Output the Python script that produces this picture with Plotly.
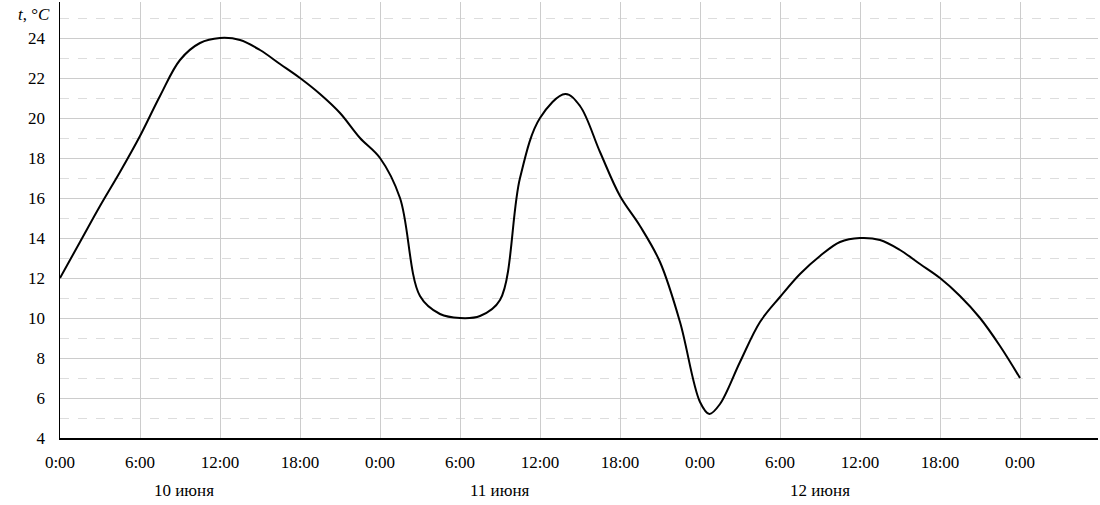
import plotly.graph_objects as go

# Hours since 0:00 on 10 June, temperature in °C
hours = [0, 1.5, 3, 4.5, 6, 7.5, 9, 10.5, 12, 13.5, 15, 16.5, 18, 19.5, 21, 22.5,
         24, 25.5, 27, 28.5, 30, 31.5, 33, 34.5, 36, 37.9, 39, 40.5, 42, 43.5, 45, 46.5,
         48, 48.7, 49.5, 51, 52.5, 54, 55.5, 57, 58.5, 60, 61.5, 63, 64.5, 66, 67.5, 69, 70.5, 72]
temps = [12.0, 13.8, 15.6, 17.3, 19.1, 21.1, 22.9, 23.75, 24.0, 23.9, 23.4, 22.7, 22.0, 21.2, 20.25, 19.0,
         18.0, 16.0, 11.1, 10.2, 10.0, 10.1, 10.9, 17.0, 20.0, 21.2, 20.6, 18.3, 16.1, 14.6, 12.8, 9.8,
         5.8, 5.2, 5.7, 7.8, 9.8, 11.05, 12.2, 13.1, 13.8, 14.0, 13.9, 13.4, 12.7, 12.0, 11.1, 10.0, 8.6, 7.0]

x_tick_vals = [0, 6, 12, 18, 24, 30, 36, 42, 48, 54, 60, 66, 72]
x_tick_text = ["0:00", "6:00", "12:00", "18:00", "0:00", "6:00", "12:00", "18:00",
               "0:00", "6:00", "12:00", "18:00", "0:00"]
y_tick_vals = [4, 6, 8, 10, 12, 14, 16, 18, 20, 22, 24]
day_positions = [9.3, 33, 57]
day_labels = ["10 июня", "11 июня", "12 июня"]

FONT = "Liberation Serif"

fig = go.Figure()
fig.add_trace(go.Scatter(
    x=hours, y=temps, mode="lines",
    line=dict(color="black", width=2, shape="spline", smoothing=1.0),
    hoverinfo="skip", showlegend=False,
))

fig.update_layout(
    width=1100, height=505,
    margin=dict(l=60, r=2, t=2, b=67, autoexpand=False),
    paper_bgcolor="white", plot_bgcolor="white",
    font=dict(family=FONT, size=17, color="black"),
    showlegend=False,
    hovermode=False,
    xaxis=dict(
        range=[0, 77.85], tickmode="array", tickvals=x_tick_vals, ticktext=x_tick_text,
        showgrid=True, gridcolor="#cccccc", gridwidth=1,
        showline=True, linecolor="black", linewidth=1.5,
        zeroline=False, ticks="", ticklabelstandoff=8, automargin=False,
    ),
    yaxis=dict(
        range=[4, 25.8], tickmode="array", tickvals=y_tick_vals,
        showgrid=True, gridcolor="#cccccc", gridwidth=1,
        minor=dict(tick0=5, dtick=2, showgrid=True, gridcolor="#dddddd", griddash="dash", gridwidth=1),
        showline=True, linecolor="black", linewidth=1.5,
        zeroline=False, ticks="", ticklabelstandoff=10, automargin=False,
    ),
)

for pos, lab in zip(day_positions, day_labels):
    fig.add_annotation(x=pos, y=0, xref="x", yref="paper", yshift=-52, yanchor="middle",
                       text=lab, showarrow=False, font=dict(family=FONT, size=17))

fig.add_annotation(x=0, y=1, xref="paper", yref="paper", xshift=-8, yshift=-12,
                   xanchor="right", yanchor="middle", text="<i>t</i>, °<i>C</i>", showarrow=False,
                   font=dict(family=FONT, size=17))

fig.write_html("out.html", config={"displayModeBar": False, "staticPlot": True},
               post_script="document.body.style.margin='0px';document.body.style.padding='0px';")
